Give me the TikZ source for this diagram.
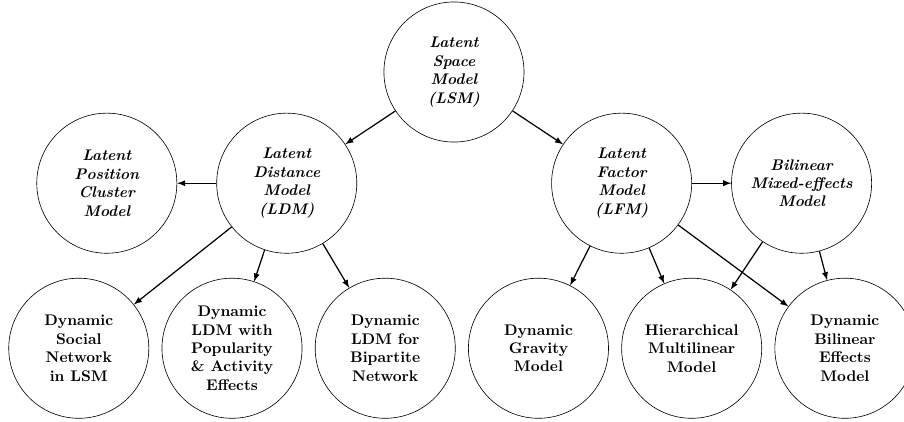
\documentclass[tikz,border=0pt]{standalone}
\usepackage{tikz}
\usetikzlibrary{positioning,arrows}
\tikzstyle{model}=[circle,draw,minimum size=3.2cm,inner sep=0,align=center,font=\bfseries\itshape]
\tikzstyle{dynmodel}=[model,font=\bfseries]
\tikzstyle{link}=[thick,-latex]

\begin{document}
\begin{tikzpicture}[on grid]
\useasboundingbox (-10.37,1.645) rectangle (10.28,-7.975);

\node[model] (lsm) {Latent\\Space\\Model\\(LSM)};

\node[model, below left = 2.54cm and 3.82cm of lsm] (ldm) {Latent\\Distance\\Model\\(LDM)};
\node[model, left = 4.11cm of ldm] (lpcm) {Latent\\Position\\Cluster\\Model};

\node[model, below right = 2.54cm and 3.83cm of lsm] (lfm) {Latent\\Factor\\Model\\(LFM)};
\node[model, right = 4.11cm of lfm] (bme) {Bilinear\\Mixed-effects\\Model};

% bottom row
\node[dynmodel, below left = 3.77cm and 4.75cm of ldm] (dsn) {Dynamic\\Social\\Network\\in LSM};
\node[dynmodel, right = 3.5cm of dsn] (dpa) {Dynamic\\LDM with\\Popularity\\\& Activity\\Effects};
\node[dynmodel, right = 3.5cm of dpa] (dbn) {Dynamic\\LDM for\\Bipartite\\Network};
\node[dynmodel, right = 3.5cm of dbn] (dgm) {Dynamic\\Gravity\\Model};
\node[dynmodel, right = 3.5cm of dgm] (hmm) {Hierarchical\\Multilinear\\Model};
\node[dynmodel, right = 3.5cm of hmm] (dbe) {Dynamic\\Bilinear\\Effects\\Model};

\draw[link] (lsm) -- (ldm);
\draw[link] (lsm) -- (lfm);
\draw[link] (ldm) -- (lpcm);
\draw[link] (ldm) -- (dsn);
\draw[link] (ldm) -- (dpa);
\draw[link] (ldm) -- (dbn);
\draw[link] (lfm) -- (bme);
\draw[link] (lfm) -- (dgm);
\draw[link] (lfm) -- (hmm);
\draw[link] (lfm) -- (dbe);
\draw[link] (bme) -- (hmm);
\draw[link] (bme) -- (dbe);

\end{tikzpicture}
\end{document}
